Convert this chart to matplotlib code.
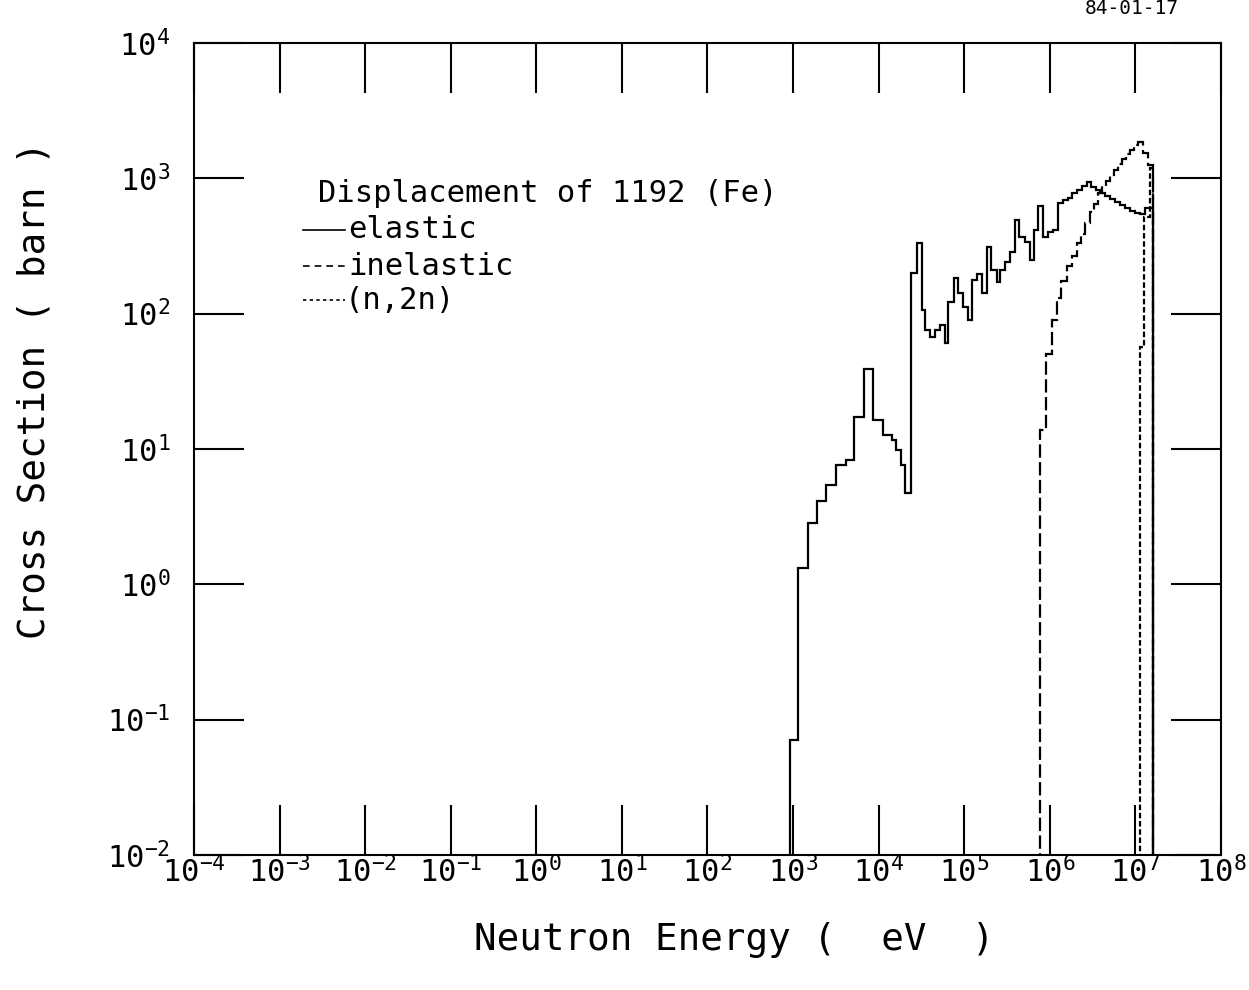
import matplotlib
matplotlib.use('Agg')
import matplotlib.pyplot as plt

plt.rcParams['font.family'] = ['DejaVu Sans Mono']
plt.rcParams['mathtext.fontset'] = 'custom'
plt.rcParams['mathtext.rm'] = 'DejaVu Sans Mono'

# displacement cross sections (energy group edges in eV, values in barn)
elastic_edges = [920, 1.14e3, 1.49e3, 1.9e3, 2.42e3, 3.16e3, 4.14e3, 5.13e3, 6.71e3, 8.55e3,
                 1.12e4, 1.43e4, 1.59e4, 1.82e4, 2.02e4, 2.38e4, 2.79e4, 3.2e4, 3.47e4, 3.97e4,
                 4.54e4, 5.19e4, 5.93e4, 6.43e4, 7.56e4, 8.41e4, 9.64e4, 1.10e5, 1.23e5, 1.40e5,
                 1.61e5, 1.84e5, 2.05e5, 2.40e5, 2.61e5, 2.98e5, 3.41e5, 3.90e5, 4.35e5, 5.11e5,
                 5.84e5, 6.50e5, 7.24e5, 8.28e5, 9.48e5, 1.08e6, 1.24e6, 1.42e6, 1.62e6, 1.81e6,
                 2.07e6, 2.37e6, 2.70e6, 3.01e6, 3.44e6, 3.84e6, 4.39e6, 5.02e6, 5.74e6, 6.57e6,
                 7.52e6, 8.61e6, 9.84e6, 1.12e7, 1.29e7, 1.60e7]
elastic = [0.071, 1.32, 2.85, 4.13, 5.43, 7.6, 8.3, 17.3, 39, 16.4,
           12.7, 11.6, 9.8, 7.6, 4.7, 200, 333, 107, 76, 67,
           76, 83, 61, 122, 184, 143, 112, 90, 178, 197,
           143, 312, 211, 172, 211, 242, 286, 493, 370, 340,
           250, 416, 626, 370, 403, 416, 659, 693, 717, 782,
           823, 880, 942, 865, 823, 782, 743, 706, 670, 637,
           606, 577, 556, 546, 600]

inelastic_edges = [7.64e5, 8.97e5, 1.05e6, 1.21e6, 1.35e6, 1.58e6, 1.81e6, 2.07e6, 2.30e6,
                   2.56e6, 2.93e6, 3.27e6, 3.64e6, 4.05e6, 4.51e6, 5.02e6, 5.59e6, 6.23e6,
                   6.93e6, 7.72e6, 8.61e6, 9.57e6, 1.07e7, 1.22e7, 1.40e7, 1.60e7]
inelastic = [13.8, 50, 90, 130, 175, 225, 265, 330, 390, 470, 560, 650, 780, 880, 960,
             1050, 1150, 1270, 1380, 1500, 1620, 1750, 1860, 1550, 1250]

n2n_edges = [1.12e7, 1.26e7, 1.46e7, 1.60e7]
n2n = [57, 520, 1200]

x_exps = list(range(-4, 9))
y_exps = list(range(-2, 5))

fig = plt.figure(figsize=(12.49, 9.9), dpi=100)
ax = fig.add_axes([0.1553, 0.1364, 0.8223, 0.8202])

lw = 1.6
ax.stairs(elastic, elastic_edges, baseline=1e-4, color='black', lw=lw)
ax.stairs(inelastic, inelastic_edges, baseline=1e-4, color='black', lw=lw,
          linestyle=(0, (6, 2)))
ax.stairs(n2n, n2n_edges, baseline=1e-4, color='black', lw=lw,
          linestyle=(0, (2.5, 1.2)))

ax.set_xscale('log')
ax.set_yscale('log')
ax.set_xlim(1e-4, 1e8)
ax.set_ylim(1e-2, 1e4)

ax.set_xticks([10.0 ** e for e in x_exps])
ax.set_xticklabels([r'$\mathdefault{10^{%d}}$' % e for e in x_exps])
ax.set_yticks([10.0 ** e for e in y_exps])
ax.set_yticklabels([r'$\mathdefault{10^{%d}}$' % e for e in y_exps])
ax.minorticks_off()
ax.tick_params(which='major', direction='in', length=36, width=1.5,
               top=True, right=True, labelsize=22)
ax.tick_params(axis='x', pad=1)
ax.tick_params(axis='y', pad=17)
for s in ax.spines.values():
    s.set_linewidth(1.5)

# legend drawn by hand, like the original plotter output
fs = 22
ax.text(0.121, 0.815, 'Displacement of 1192 (Fe)', transform=ax.transAxes,
        fontsize=fs, va='center', ha='left')
ax.plot([0.106, 0.147], [0.770, 0.770], transform=ax.transAxes, color='black', lw=1.2)
ax.plot([0.106, 0.147], [0.725, 0.725], transform=ax.transAxes, color='black', lw=1.2,
        linestyle=(0, (4, 3)))
ax.plot([0.106, 0.147], [0.683, 0.683], transform=ax.transAxes, color='black', lw=1.2,
        linestyle=(0, (2, 2)))
ax.text(0.150, 0.770, 'elastic', transform=ax.transAxes, fontsize=fs, va='center')
ax.text(0.150, 0.725, 'inelastic', transform=ax.transAxes, fontsize=fs, va='center')
ax.text(0.147, 0.683, '(n,2n)', transform=ax.transAxes, fontsize=fs, va='center')

fig.text(0.588, 0.0505, 'Neutron Energy (  eV  )', fontsize=27, ha='center', va='center')
fig.text(0.028, 0.606, 'Cross Section ( barn )', fontsize=27, ha='center', va='center',
         rotation=90)
fig.text(0.906, 0.991, '84-01-17', fontsize=14, ha='center', va='center')

fig.savefig('out.png', dpi=100)
